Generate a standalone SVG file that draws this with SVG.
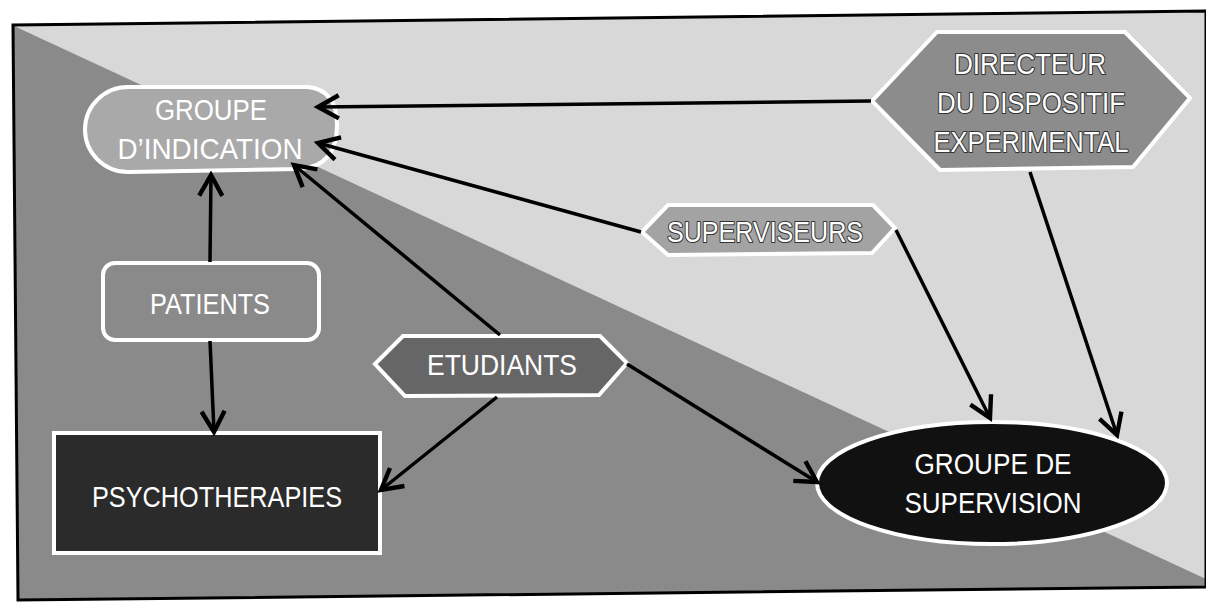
<svg xmlns="http://www.w3.org/2000/svg" width="1206" height="604" viewBox="0 0 1206 604">
<style>
.t{font-family:"Liberation Sans",Arial,sans-serif;font-size:29px;fill:#fff;text-anchor:middle}
.o{stroke:#333;stroke-width:2.2;paint-order:stroke;stroke-linejoin:round}
.n{stroke:#fff;stroke-width:4}
.c{stroke:#000;stroke-width:3.5;fill:none;marker-end:url(#a)}
</style>
<defs>
<marker id="a" markerUnits="userSpaceOnUse" markerWidth="30" markerHeight="30" viewBox="-22 -13 26 26" refX="0" refY="0" orient="auto">
<path d="M-18,-10 L0,0 L-18,10" fill="none" stroke="#000" stroke-width="3.8" stroke-linejoin="miter"/>
</marker>
</defs>
<rect width="1206" height="604" fill="#fff"/>
<g id="background">
<polygon points="13,25 1206,11 1206,587 18,600" fill="#d8d8d8"/>
<polygon points="14,26 1206,579 1206,587 18,600" fill="#8a8a8a"/>
<polygon points="13,25 1206,11 1206,587 18,600" fill="none" stroke="#000" stroke-width="3"/>
</g>
<g id="groupe-indication">
<path class="n" d="M128,87 L308,87 Q337,90 337,125 Q337,166 300,169 L128,172 A43,42.5 0 0 1 128,87 Z" fill="#a9a9a9"/>
<text class="t" x="211" y="120" textLength="112" lengthAdjust="spacingAndGlyphs">GROUPE</text>
<text class="t" x="210" y="159" textLength="185" lengthAdjust="spacingAndGlyphs">D’INDICATION</text>
</g>
<g id="directeur">
<polygon class="n" points="872,101 937,32 1125,32 1190,98 1133,167 940,170" fill="#8c8c8c"/>
<text class="t o" x="1030" y="74" textLength="152" lengthAdjust="spacingAndGlyphs">DIRECTEUR</text>
<text class="t o" x="1031" y="113" textLength="188" lengthAdjust="spacingAndGlyphs">DU DISPOSITIF</text>
<text class="t o" x="1031" y="152" textLength="195" lengthAdjust="spacingAndGlyphs">EXPERIMENTAL</text>
</g>
<g id="superviseurs">
<polygon class="n" points="642,232 668,205 873,205 895,228 872,253 668,255" fill="#a3a3a3"/>
<text class="t o" x="765" y="242" textLength="196" lengthAdjust="spacingAndGlyphs">SUPERVISEURS</text>
</g>
<g id="patients">
<rect class="n" x="103" y="263" width="216" height="77" rx="12" fill="#8a8a8a"/>
<text class="t" x="210" y="314" textLength="120" lengthAdjust="spacingAndGlyphs">PATIENTS</text>
</g>
<g id="etudiants">
<polygon class="n" points="375,364 403,336 600,336 627,363 599,395 405,396" fill="#666"/>
<text class="t" x="502" y="375" textLength="150" lengthAdjust="spacingAndGlyphs">ETUDIANTS</text>
</g>
<g id="psychotherapies">
<rect class="n" x="54" y="433" width="326" height="120" fill="#2b2b2b"/>
<text class="t" x="217" y="507" textLength="250" lengthAdjust="spacingAndGlyphs">PSYCHOTHERAPIES</text>
</g>
<g id="groupe-supervision">
<ellipse class="n" cx="992" cy="483" rx="175" ry="61" fill="#111"/>
<text class="t" x="993" y="474" textLength="157" lengthAdjust="spacingAndGlyphs">GROUPE DE</text>
<text class="t" x="993" y="513" textLength="177" lengthAdjust="spacingAndGlyphs">SUPERVISION</text>
</g>
<g id="connectors">
<line class="c" x1="871" y1="101" x2="318" y2="107"/>
<line class="c" x1="1030" y1="172" x2="1117" y2="435"/>
<line class="c" x1="896" y1="230" x2="990" y2="418"/>
<line class="c" x1="641" y1="232" x2="318" y2="143"/>
<line class="c" x1="500" y1="335" x2="294" y2="165"/>
<line class="c" x1="497" y1="397" x2="381" y2="490"/>
<line class="c" x1="627" y1="364" x2="817" y2="482"/>
<line class="c" x1="210" y1="262" x2="211" y2="175"/>
<line class="c" x1="210" y1="341" x2="214" y2="432"/>
</g>
</svg>
